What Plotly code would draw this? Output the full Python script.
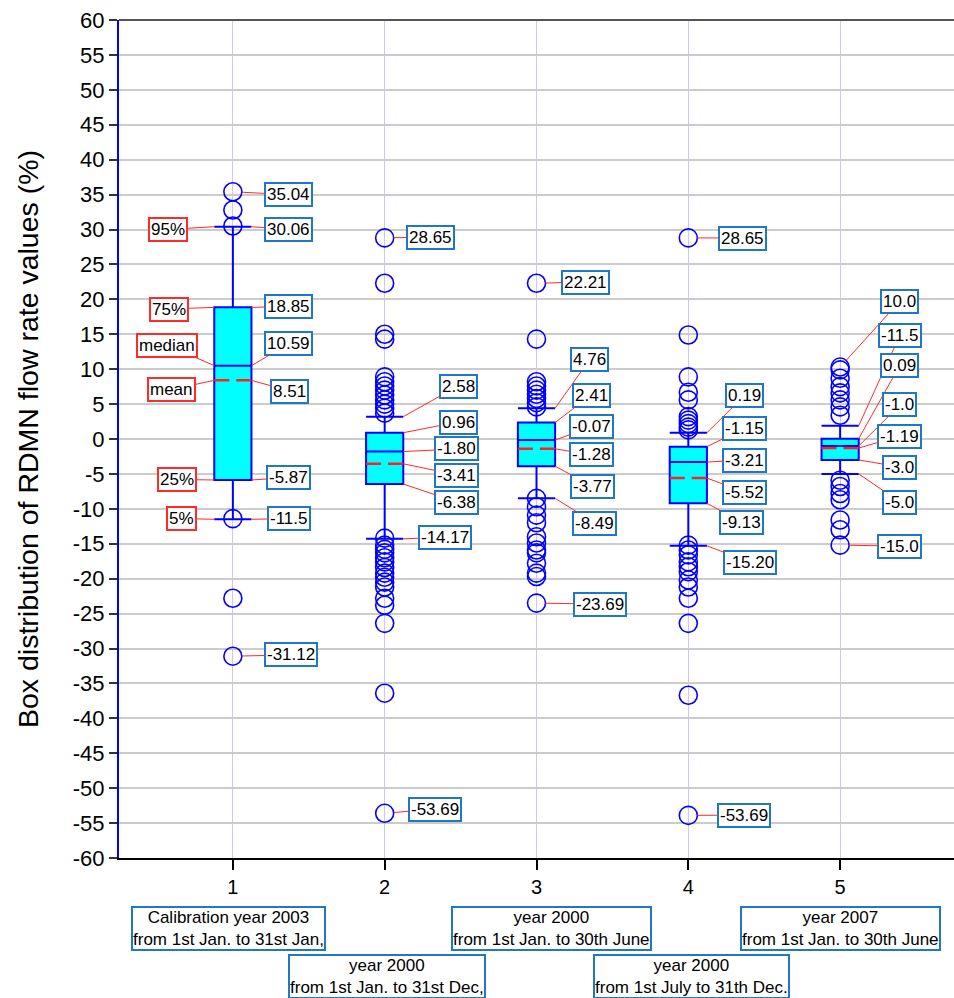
import plotly.graph_objects as go

# ---------------- data ----------------
categories = [1, 2, 3, 4, 5]
tick_text_x = ["1", "2", "3", "4", "5"]

q1 = [-5.87, -6.45, -3.9, -9.2, -3.0]
median = [10.5, -1.8, -0.15, -3.3, -1.0]
q3 = [18.85, 0.9, 2.35, -1.1, 0.05]
mean = [8.4, -3.55, -1.4, -5.6, -1.3]
upper_whisker = [30.4, 3.2, 4.4, 0.9, 1.9]
lower_whisker = [-11.5, -14.3, -8.5, -15.3, -5.0]

outliers_1 = [35.4, 32.8, 30.5, -11.4, -22.8, -31.1]
outliers_2 = [28.8, 22.3, 15.0, 14.3, 8.9, 8.2, 7.6, 7.0, 6.3, 5.6, 5.0, 4.4, 3.7,
              -14.2, -15.2, -15.8, -16.3, -17.0, -17.6, -18.4, -19.2, -19.8, -20.5,
              -21.2, -22.8, -23.8, -26.4, -36.4, -53.6]
outliers_3 = [22.3, 14.3, 8.2, 7.6, 7.0, 6.4, 5.8, 5.2, 4.6,
              -8.5, -9.7, -10.9, -12.0, -14.0, -14.9, -15.9, -16.3, -17.8, -19.2, -19.7, -23.5]
outliers_4 = [28.8, 14.9, 8.9, 6.7, 5.6, 3.2, 2.7, 2.2, 1.7, 1.3,
              -15.2, -15.9, -16.6, -17.6, -18.3, -19.0, -20.2, -21.2, -22.8, -26.4, -36.7, -53.9]
outliers_5 = [10.3, 9.9, 8.7, 7.5, 6.6, 5.6, 4.6, 3.4,
              -5.9, -6.8, -7.8, -8.7, -11.6, -13.0, -15.2]
outliers = [outliers_1, outliers_2, outliers_3, outliers_4, outliers_5]

# value labels per box (text, target)
labels_1 = [("35.04", "top"), ("30.06", "upper"), ("18.85", "q3"), ("10.59", "median"),
            ("8.51", "mean"), ("-5.87", "q1"), ("-11.5", "lower"), ("-31.12", "bottom")]
labels_2 = [("28.65", "top"), ("2.58", "upper"), ("0.96", "q3"), ("-1.80", "median"),
            ("-3.41", "mean"), ("-6.38", "q1"), ("-14.17", "lower"), ("-53.69", "bottom")]
labels_3 = [("22.21", "top"), ("4.76", "upper"), ("2.41", "q3"), ("-0.07", "median"),
            ("-1.28", "mean"), ("-3.77", "q1"), ("-8.49", "lower"), ("-23.69", "bottom")]
labels_4 = [("28.65", "top"), ("0.19", "upper"), ("-1.15", "q3"), ("-3.21", "median"),
            ("-5.52", "mean"), ("-9.13", "q1"), ("-15.20", "lower"), ("-53.69", "bottom")]
labels_5 = [("10.0", "top"), ("-11.5", "upper"), ("0.09", "q3"), ("-1.0", "median"),
            ("-1.19", "mean"), ("-3.0", "q1"), ("-5.0", "lower"), ("-15.0", "bottom")]
value_labels = [labels_1, labels_2, labels_3, labels_4, labels_5]

legend_labels = [("95%", "upper"), ("75%", "q3"), ("median", "median"),
                 ("mean", "mean"), ("25%", "q1"), ("5%", "lower")]

category_names = ["Calibration year 2003<br>from 1st Jan. to 31st Jan,",
                  "year 2000<br>from 1st Jan. to 31st Dec,",
                  "year 2000<br>from 1st Jan. to 30th June",
                  "year 2000<br>from 1st July to 31th Dec.",
                  "year 2007<br>from 1st Jan. to 30th June"]

y_tick_vals = list(range(-60, 61, 5))
y_tick_text = [str(v) for v in y_tick_vals]

# ---------------- layout positions (label centres) ----------------
label_pos = [
    [(0.369, 35.0), (0.369, 30.0), (0.369, 18.97), (0.369, 13.67), (0.375, 6.87),
     (0.369, -5.52), (0.369, -11.39), (0.380, -30.93)],
    [(0.30, 28.92), (0.483, 7.59), (0.483, 2.43), (0.476, -1.43), (0.476, -5.16),
     (0.476, -9.03), (0.397, -14.04), (0.331, -52.99)],
    [(0.326, 22.48), (0.352, 11.45), (0.359, 6.30), (0.359, 1.72), (0.359, -2.29),
     (0.366, -6.73), (0.385, -12.03), (0.418, -23.63)],
    [(0.354, 28.78), (0.373, 6.30), (0.373, 1.57), (0.373, -3.01), (0.373, -7.59),
     (0.347, -11.89), (0.406, -17.62), (0.367, -53.85)],
    [(0.394, 19.76), (0.394, 14.89), (0.394, 10.59), (0.394, 4.87), (0.394, 0.43),
     (0.394, -4.01), (0.394, -9.03), (0.394, -15.33)],
]
legend_pos = [(-0.428, 30.0), (-0.422, 18.61), (-0.431, 13.46), (-0.402, 7.09),
              (-0.369, -5.80), (-0.336, -11.39)]
cat_label_pos = [(-0.026, -0.0847), (0.015, -0.142), (0.10, -0.0847),
                 (0.024, -0.142), (0.005, -0.0847)]

BOX_W = 0.245
HALF = BOX_W / 2
BLUE = "#0000ff"
LABEL_BLUE = "#1f78c4"
RED = "#ff2a2a"
FONT = "Liberation Sans, Arial, sans-serif"

fig = go.Figure()

fig.add_trace(go.Box(
    x=categories, q1=q1, median=median, q3=q3,
    lowerfence=lower_whisker, upperfence=upper_whisker,
    width=BOX_W, whiskerwidth=1, fillcolor="#00ffff",
    line=dict(color=BLUE, width=2), boxpoints=False, showlegend=False,
))

for c, m in zip(categories, mean):
    fig.add_trace(go.Scatter(
        x=[c - HALF, c + HALF], y=[m, m], mode="lines",
        line=dict(color="#ff2020", width=2.5, dash="15px,7px"),
        showlegend=False, hoverinfo="skip"))

for c, outs in zip(categories, outliers):
    fig.add_trace(go.Scatter(
        x=[c] * len(outs), y=outs, mode="markers",
        marker=dict(symbol="circle-open", size=18, color=BLUE, line=dict(width=1.6)),
        showlegend=False))


def stat_value(i, key):
    return {"q1": q1[i], "median": median[i], "q3": q3[i], "mean": mean[i],
            "upper": upper_whisker[i], "lower": lower_whisker[i],
            "top": max(outliers[i]), "bottom": min(outliers[i])}[key]


annotations = []
for i, c in enumerate(categories):
    for (text, key), (dx, ty) in zip(value_labels[i], label_pos[i]):
        is_out = key in ("top", "bottom")
        annotations.append(dict(
            x=c if is_out else c + HALF, y=stat_value(i, key),
            xref="x", yref="y", axref="x", ayref="y",
            ax=c + dx, ay=ty, text=text, showarrow=True, arrowhead=0,
            arrowwidth=1, arrowcolor=RED, standoff=9 if is_out else 0,
            font=dict(size=17, color="black", family=FONT),
            bordercolor=LABEL_BLUE, borderwidth=2, borderpad=1, bgcolor="white"))

for (text, key), (dx, ty) in zip(legend_labels, legend_pos):
    annotations.append(dict(
        x=categories[0] - HALF, y=stat_value(0, key),
        xref="x", yref="y", axref="x", ayref="y",
        ax=categories[0] + dx, ay=ty, text=text, showarrow=True, arrowhead=0,
        arrowwidth=1, arrowcolor=RED,
        font=dict(size=17, color="black", family=FONT),
        bordercolor=RED, borderwidth=2, borderpad=1, bgcolor="white"))

for c, name, (dx, py) in zip(categories, category_names, cat_label_pos):
    annotations.append(dict(
        x=c + dx, y=py, xref="x", yref="paper", text=name, showarrow=False,
        xanchor="center", yanchor="middle", align="center",
        font=dict(size=17, color="black", family=FONT),
        bordercolor=LABEL_BLUE, borderwidth=2, borderpad=0, bgcolor="white"))

fig.update_layout(
    width=954, height=998,
    margin=dict(l=119, r=0, t=20, b=140),
    paper_bgcolor="white", plot_bgcolor="white",
    font=dict(family=FONT, color="black"),
    boxmode="overlay",
    annotations=annotations,
    shapes=[dict(type="line", xref="paper", yref="paper", x0=0, x1=1, y0=1, y1=1,
                 line=dict(color="#555555", width=2))],
    xaxis=dict(range=[0.25, 5.75], tickvals=categories, ticktext=tick_text_x,
               showgrid=True, gridcolor="#c8c8ff", gridwidth=1, zeroline=False,
               showline=True, linecolor="black", linewidth=1.5,
               ticks="outside", ticklen=10, tickcolor="black", tickwidth=1.5,
               tickfont=dict(size=20)),
    yaxis=dict(range=[-60, 60], tickvals=y_tick_vals, ticktext=y_tick_text,
               showgrid=True, gridcolor="#cccccc", gridwidth=1.5, zeroline=False,
               showline=True, linecolor=BLUE, linewidth=2,
               ticks="outside", ticklen=8, tickcolor="#333333", tickwidth=1.5,
               tickfont=dict(size=22),
               title=dict(text="Box distribution of RDMN flow rate values (%)",
                          font=dict(size=28.5), standoff=26)),
)

fig.write_html(
    "out.html",
    config={"displayModeBar": False},
    post_script="document.body.style.margin='0px';document.body.style.overflow='hidden';",
)
